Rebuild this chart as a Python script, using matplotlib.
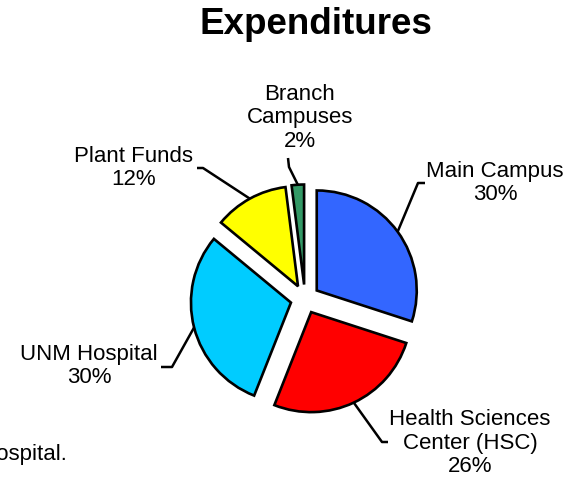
import matplotlib.pyplot as plt
import numpy as np

# Daten
categories = ["Main Campus", "Health Sciences\nCenter (HSC)", "UNM Hospital", "Plant Funds", "Branch\nCampuses"]
shares = [30, 26, 30, 12, 2]
colors = ["#3366FF", "#FF0000", "#00CCFF", "#FFFF00", "#339966"]

# Layout (Pixel, y von oben)
W, H = 569, 480
label_pos = [(495, 183), (470, 443), (89, 366), (134, 168), (300, 118)]
elbows = [[(418, 183), (425, 183)],
          [(382, 442), (388, 442)],
          [(172, 367), (161, 367)],
          [(203, 168), (197, 168)],
          [(289, 167), (288, 158)]]

plt.rcParams['font.family'] = ['Liberation Sans', 'DejaVu Sans']

fig = plt.figure(figsize=(W / 100, H / 100), dpi=100)
ax = fig.add_axes([0, 0, 1, 1])

cx, cy, r = 305, H - 299, 100
# explode wirkt in Dateneinheiten (nicht relativ zum Radius)
explode = [0.145 * r] * len(shares)
wedges, _ = ax.pie(shares, colors=colors, startangle=90, counterclock=False,
                   explode=explode, radius=r, center=(cx, cy),
                   wedgeprops=dict(edgecolor="black", linewidth=1.9))
ax.set_xlim(0, W)
ax.set_ylim(0, H)
ax.set_aspect("equal")
ax.axis("off")

# Beschriftungen mit Fuehrungslinien
for w, lab, share, pos, elb in zip(wedges, categories, shares, label_pos, elbows):
    mid = np.deg2rad((w.theta1 + w.theta2) / 2)
    ox, oy = w.center
    px = ox + r * np.cos(mid)
    py = oy + r * np.sin(mid)
    xs = [px] + [e[0] for e in elb]
    ys = [py] + [H - e[1] for e in elb]
    ax.plot(xs, ys, color="black", linewidth=1.8, solid_capstyle="butt")
    ax.text(pos[0], H - pos[1], f"{lab}\n{share}%", ha="center", va="center",
            fontsize=16, linespacing=1.17)

ax.text(316, H - 25, "Expenditures", ha="center", va="center",
        fontsize=26.5, fontweight="bold")
ax.text(67, H - 460, "Includes UNM Hospital.", ha="right", va="baseline", fontsize=16)

fig.savefig("out.png", dpi=100)
